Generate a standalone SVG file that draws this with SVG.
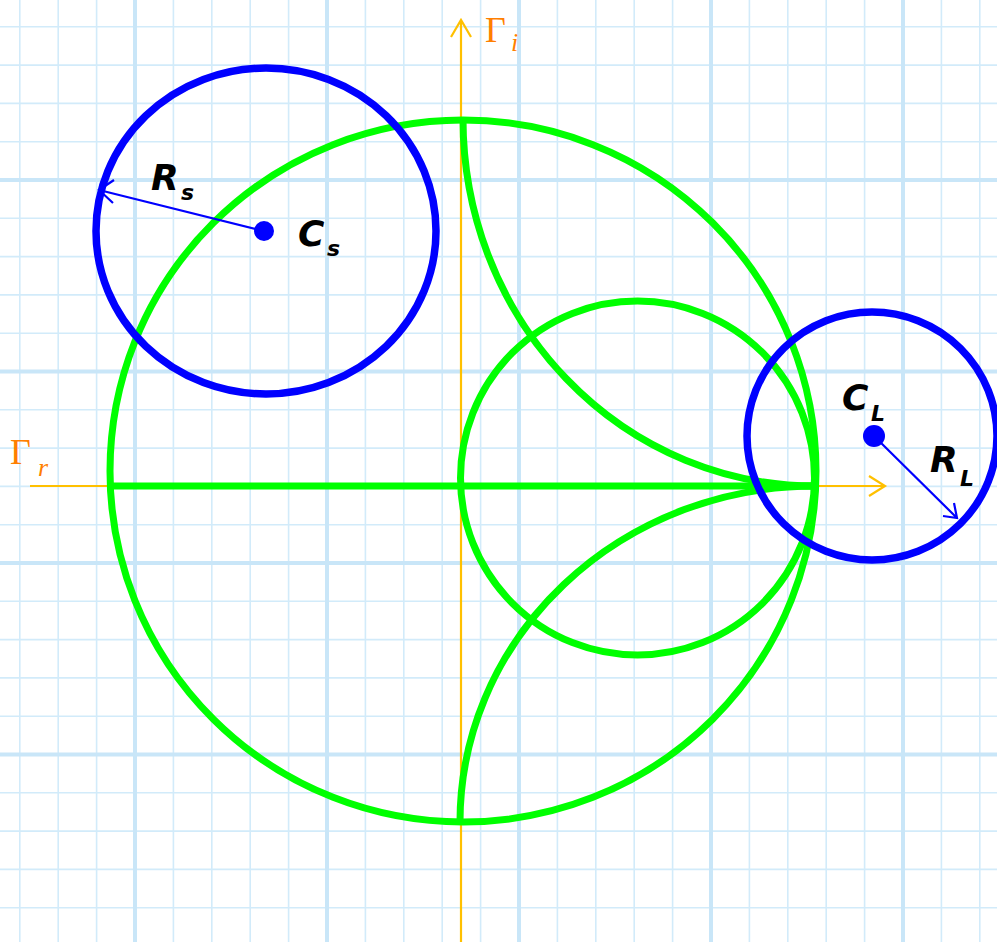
<svg xmlns="http://www.w3.org/2000/svg" width="997" height="942" viewBox="0 0 997 942">
<style>
.thin{stroke:#d2ebfa;stroke-width:1.6;fill:none}
.thick{stroke:#c9e6f8;stroke-width:4;fill:none}
.axis{stroke:#ffc000;stroke-width:2.2;fill:none}
.green{stroke:#00ff00;stroke-width:7;fill:none}
.blue{stroke:#0000ff;stroke-width:7.5;fill:none}
.rad{stroke:#0000ff;stroke-width:2.2;fill:none}
.ax{font-family:"Liberation Serif",serif;fill:#ff7f00}
.lbl{font-family:"DejaVu Sans",sans-serif;font-style:italic;font-weight:bold;fill:#000}
</style>
<rect width="997" height="942" fill="#ffffff"/>
<g id="grid">
<path class="thin" d="M19.8 0V942M58.2 0V942M96.6 0V942M173.4 0V942M211.8 0V942M250.2 0V942M288.6 0V942M365.4 0V942M403.8 0V942M442.2 0V942M480.6 0V942M557.4 0V942M595.8 0V942M634.2 0V942M672.6 0V942M749.4 0V942M787.8 0V942M826.2 0V942M864.6 0V942M941.4 0V942M979.8 0V942M0 26.8H997M0 65.1H997M0 103.4H997M0 141.7H997M0 218.3H997M0 256.6H997M0 294.9H997M0 333.2H997M0 409.8H997M0 448.1H997M0 486.4H997M0 524.7H997M0 601.3H997M0 639.6H997M0 677.9H997M0 716.2H997M0 792.8H997M0 831.1H997M0 869.4H997M0 907.7H997"/>
<path class="thick" d="M135 0V942M327 0V942M519 0V942M711 0V942M903 0V942M0 180H997M0 371.5H997M0 563H997M0 754.5H997"/>
</g>
<g id="axes">
<path class="axis" d="M461 942V20M451 37L461 20L471 37"/>
<path class="axis" d="M30 486H885M869 476L885 486L869 496"/>
<text class="ax" x="485" y="42" font-size="36">Γ</text>
<text class="ax" x="511" y="51" font-size="26" font-style="italic">i</text>
<text class="ax" x="10" y="464" font-size="36">Γ</text>
<text class="ax" x="38" y="476" font-size="26" font-style="italic">r</text>
</g>
<g id="connectors">
<path class="green" d="M110 486H815"/>
<path class="green" d="M463 119A352 367 0 0 0 815 486"/>
<path class="green" d="M460 822A355 336 0 0 1 815 486"/>
</g>
<g id="outer-circle"><ellipse class="green" cx="463" cy="471" rx="353" ry="351"/></g>
<g id="inner-circle"><ellipse class="green" cx="637.5" cy="478" rx="177" ry="177"/></g>
<g id="source-circle">
<ellipse class="blue" cx="266" cy="231" rx="170" ry="163"/>
<circle cx="264" cy="231" r="10" fill="#0000ff"/>
<path class="rad" d="M264 231L99 190M114 180L99 190L113 203"/>
<text class="lbl" x="151" y="190" font-size="36">R</text>
<text class="lbl" x="181" y="200" font-size="22">s</text>
<text class="lbl" x="298" y="246" font-size="36">C</text>
<text class="lbl" x="327" y="256" font-size="22">s</text>
</g>
<g id="load-circle">
<ellipse class="blue" cx="872" cy="436" rx="125" ry="124"/>
<circle cx="874" cy="436" r="11" fill="#0000ff"/>
<path class="rad" d="M874 436L957 518M943 516L957 518L954 503"/>
<text class="lbl" x="842" y="410" font-size="36">C</text>
<text class="lbl" x="871" y="421" font-size="22">L</text>
<text class="lbl" x="930" y="472" font-size="36">R</text>
<text class="lbl" x="960" y="486" font-size="22">L</text>
</g>
</svg>
